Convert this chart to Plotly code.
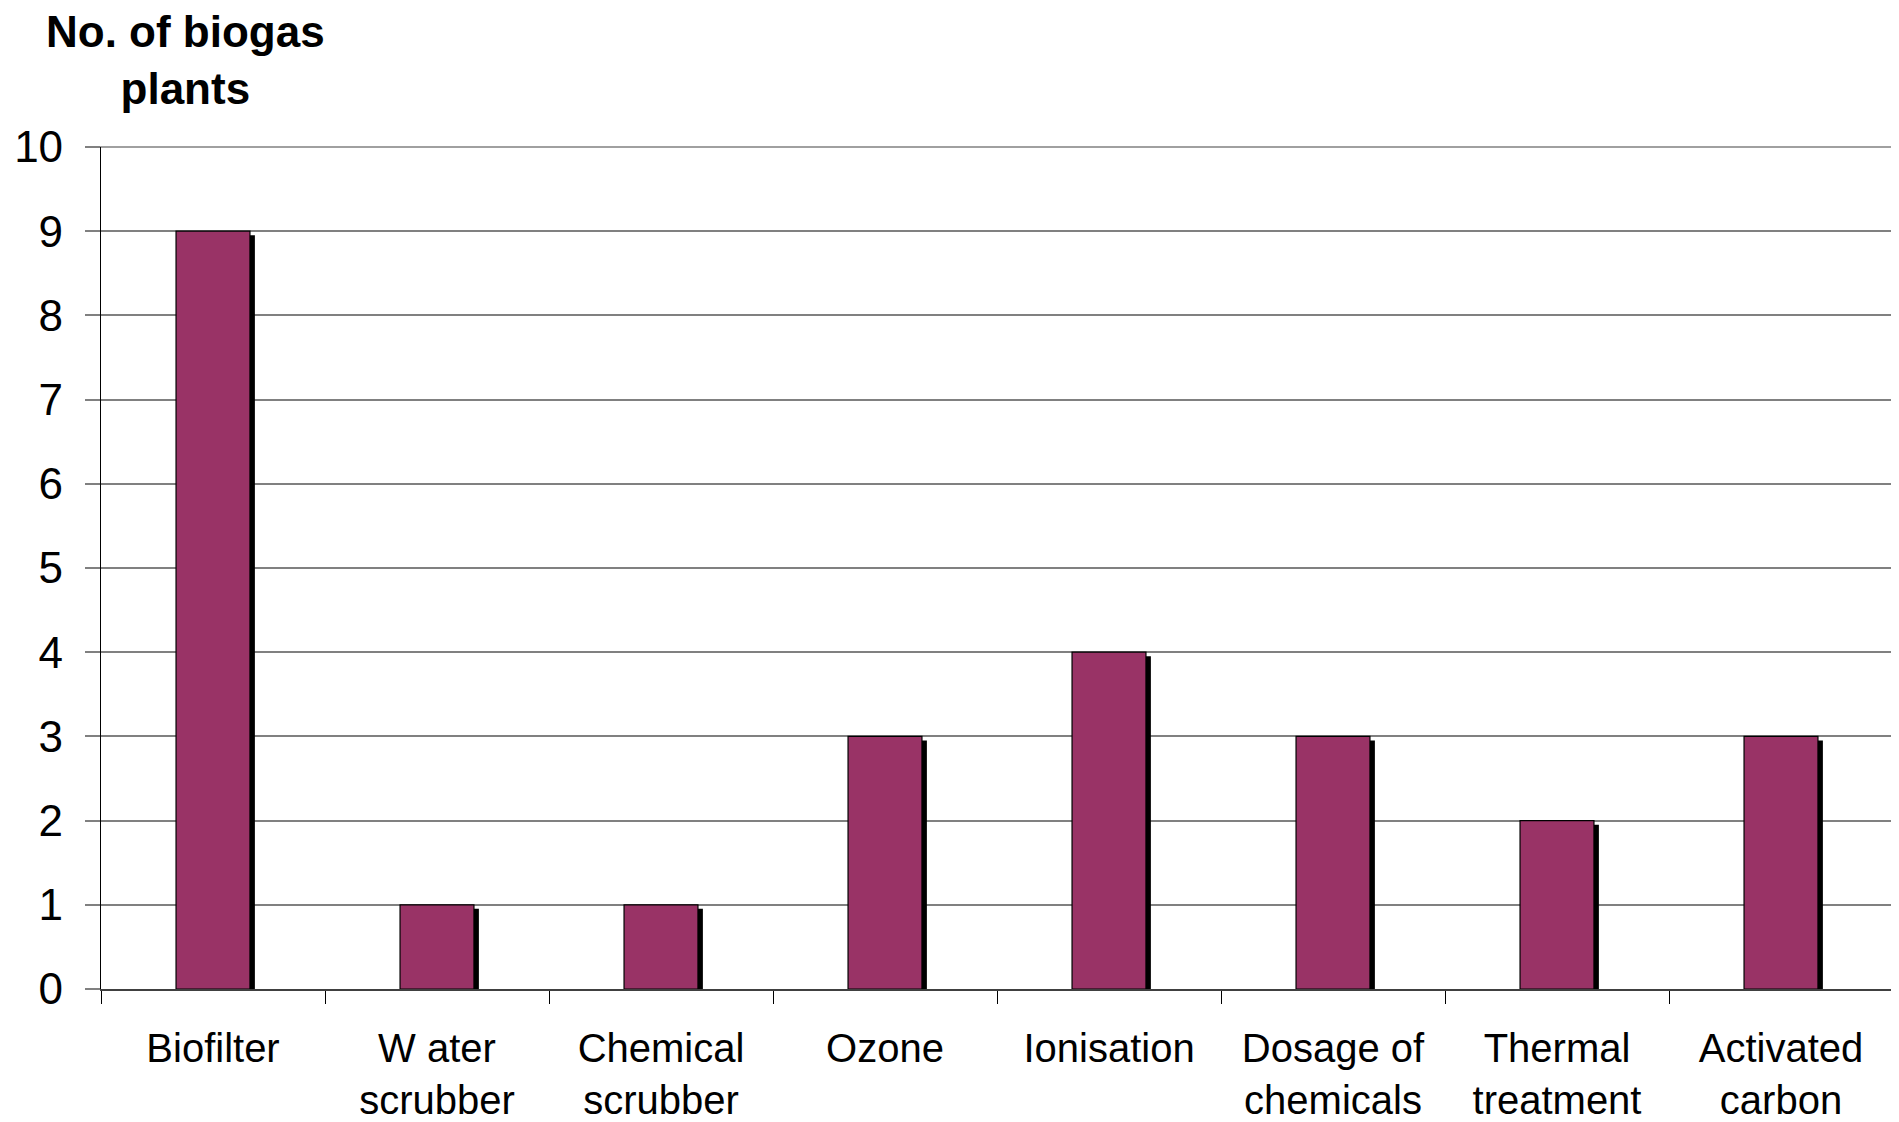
import plotly.graph_objects as go

categories = ["Biofilter", "W ater<br>scrubber", "Chemical<br>scrubber", "Ozone",
              "Ionisation", "Dosage of<br>chemicals", "Thermal<br>treatment", "Activated<br>carbon"]
plants = [9, 1, 1, 3, 4, 3, 2, 3]
y_ticks = [0, 1, 2, 3, 4, 5, 6, 7, 8, 9, 10]

BAR_W = 0.33
SHADOW_DX = 0.022
SHADOW_DY = 0.048
FONT = "Liberation Sans, Arial, sans-serif"

fig = go.Figure()
# shadow
fig.add_trace(go.Bar(
    x=categories, y=plants, base=-SHADOW_DY,
    width=BAR_W, offset=-BAR_W / 2 + SHADOW_DX,
    marker=dict(color="black", line=dict(width=0)),
    hoverinfo="skip", showlegend=False,
))
# main bars
fig.add_trace(go.Bar(
    x=categories, y=plants,
    width=BAR_W, offset=-BAR_W / 2,
    marker=dict(color="#993366", line=dict(color="black", width=1.2)),
    showlegend=False,
))

fig.update_layout(
    width=1891, height=1114,
    margin=dict(l=93, r=6, t=139, b=133, autoexpand=False),
    paper_bgcolor="white", plot_bgcolor="white",
    barmode="overlay",
    font=dict(family=FONT, color="black"),
    shapes=[
        dict(type="line", xref="paper", yref="paper", x0=1, x1=1, y0=0, y1=1,
             line=dict(color="#808080", width=1.5), layer="below"),
        dict(type="line", xref="paper", yref="paper", x0=0, x1=1, y0=1, y1=1,
             line=dict(color="#808080", width=1.5), layer="below"),
        dict(type="line", xref="paper", yref="paper", x0=-15 / 1792, x1=0, y0=1, y1=1,
             line=dict(color="#808080", width=1.5), layer="below"),
    ],
    annotations=[
        dict(text="<b>No. of biogas<br>plants</b>", xref="paper", yref="paper",
             x=0.0474, y=1.1033, xanchor="center", yanchor="middle",
             showarrow=False,
             font=dict(family=FONT, size=44, color="black"),
             align="center"),
    ],
)

fig.update_xaxes(
    type="category", tickson="boundaries", ticks="outside", ticklen=13,
    tickcolor="black", tickwidth=1.2,
    showline=True, linecolor="#404040", linewidth=1.5,
    showgrid=False, tickfont=dict(size=40, family=FONT, color="black"),
    ticklabelstandoff=23, automargin=False,
    range=[-0.5, 7.5],
)
fig.update_yaxes(
    range=[0, 10], tickvals=y_ticks, ticks="outside", ticklen=15,
    tickcolor="#808080", tickwidth=1.5,
    showline=True, linecolor="black", linewidth=1.2,
    showgrid=True, gridcolor="#808080", gridwidth=1.5,
    zeroline=False, automargin=False,
    tickfont=dict(size=44, family=FONT, color="black"),
    ticklabelstandoff=13,
)

fig.write_html("out.html")
